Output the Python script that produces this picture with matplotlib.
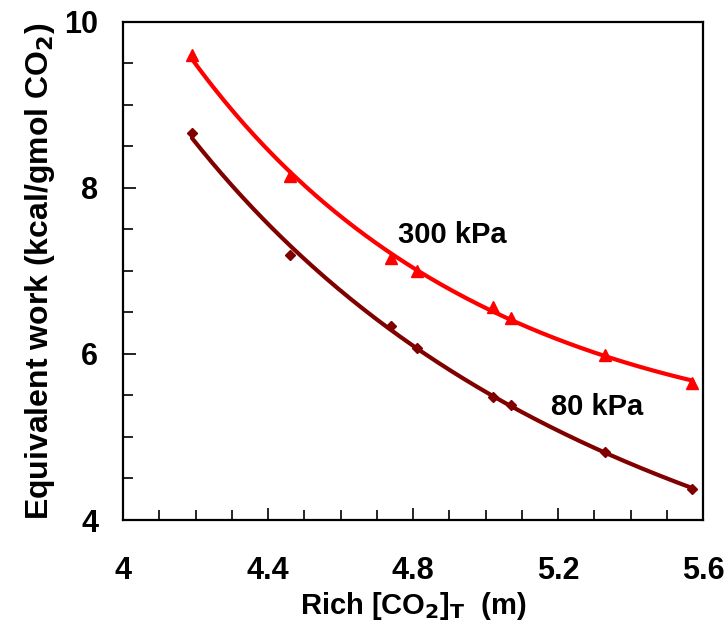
import numpy as np
import matplotlib.pyplot as plt
from matplotlib.ticker import MultipleLocator

plt.rcParams['font.family'] = ['Liberation Sans', 'DejaVu Sans']
plt.rcParams['font.weight'] = 'bold'
plt.rcParams['mathtext.default'] = 'bf'

# data
rich_co2 = [4.19, 4.46, 4.74, 4.81, 5.02, 5.07, 5.33, 5.57]
work_300 = [9.60, 8.14, 7.16, 7.00, 6.57, 6.43, 5.99, 5.65]
work_80 = [8.66, 7.19, 6.34, 6.07, 5.48, 5.39, 4.82, 4.37]

labels = ["300 kPa", "80 kPa"]
label_xy = [(4.757, 7.43), (5.18, 5.36)]

red = "#FF0000"
maroon = "#800000"

fig = plt.figure(figsize=(7.28, 6.33), dpi=100)
ax = fig.add_axes([0.169, 0.1785, 0.797, 0.787])

# smooth trend curves fitted to the points (log-log quadratic)
xs = np.linspace(min(rich_co2), max(rich_co2), 200)
for ys, col in [(work_300, red), (work_80, maroon)]:
	coef = np.polyfit(np.log(rich_co2), np.log(ys), 2)
	ax.plot(xs, np.exp(np.polyval(coef, np.log(xs))), color=col, lw=3, solid_capstyle='round')

ax.plot(rich_co2, work_300, ls='none', marker='^', ms=8, color=red)
ax.plot(rich_co2, work_80, ls='none', marker='D', ms=5.5, color=maroon)

for lab, (x, y) in zip(labels, label_xy):
	ax.text(x, y, lab, fontsize=21, fontweight='bold', va='center')

ax.set_xlim(4, 5.6)
ax.set_ylim(4, 10)
ax.xaxis.set_major_locator(MultipleLocator(0.4))
ax.xaxis.set_minor_locator(MultipleLocator(0.1))
ax.yaxis.set_major_locator(MultipleLocator(2))
ax.yaxis.set_minor_locator(MultipleLocator(0.5))
ax.xaxis.set_major_formatter(plt.FuncFormatter(lambda v, p: ("%.1f" % v).rstrip('0').rstrip('.')))
ax.tick_params(which='both', direction='in', labelsize=22, width=1.2)
ax.tick_params(which='major', length=9)
ax.tick_params(which='minor', length=7)
ax.tick_params(axis='x', which='major', pad=26)
ax.tick_params(axis='y', which='major', pad=18)
for s in ax.spines.values():
	s.set_linewidth(1.6)

ax.set_xlabel("Rich [CO$_2$]$_T$  (m)", fontsize=21, fontweight='bold', labelpad=3)
ax.set_ylabel("Equivalent work (kcal/gmol CO$_2$)", fontsize=23, fontweight='bold', labelpad=5)

fig.savefig("out.png", dpi=100)
